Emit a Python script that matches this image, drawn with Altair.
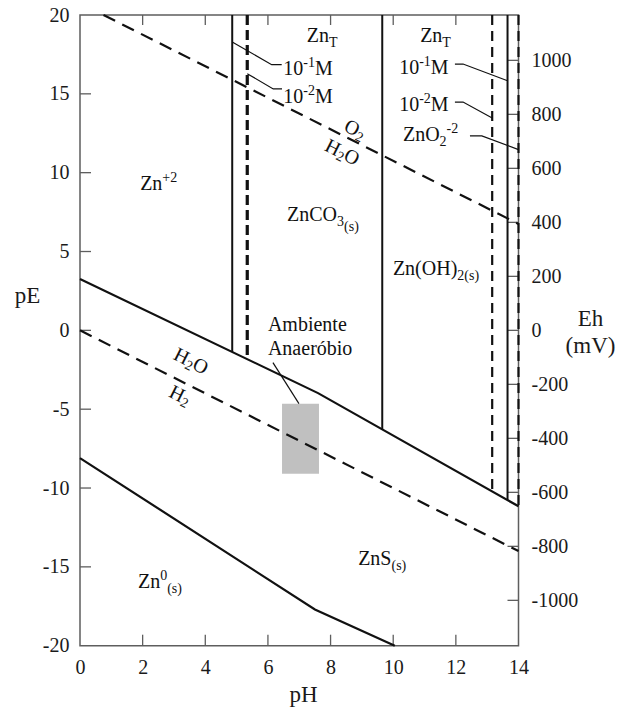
import math

import altair as alt
import pandas as pd

FONT = "Liberation Serif"
INK = "#111111"
FRAME = "#5e5e5e"
LABEL_INK = "#1a1a1a"

# ---------------------------------------------------------------- axes
ph_ticks = [0, 2, 4, 6, 8, 10, 12, 14]
pe_ticks = [-20, -15, -10, -5, 0, 5, 10, 15, 20]
eh_ticks = [-1000, -800, -600, -400, -200, 0, 200, 400, 600, 800, 1000]
inner_ph_ticks = [2, 4, 6, 8, 10, 12]
inner_pe_ticks = [-15, -10, -5, 0, 5, 10, 15]
mv_per_pe = 58.4

# ---------------------------------------------------------------- boundaries
# water stability limits
o2_h2o_ph = [0.75, 14.0]
o2_h2o_pe = [20.0, 6.75]
h2o_h2_ph = [0.0, 14.0]
h2o_h2_pe = [0.0, -14.0]

# Zn(II) species / ZnS(s)
zns_ph = [0.0, 7.6, 14.0]
zns_pe = [3.26, -3.98, -11.16]

# ZnS(s) / Zn0(s)
zn0_ph = [0.0, 7.5, 10.05]
zn0_pe = [-8.1, -17.7, -20.0]

# vertical solubility boundaries, drawn from pE 20 down to the ZnS line
vert_ph = [4.86, 5.34, 9.65, 13.16, 13.65, 14.0]
vert_pe_low = [-1.37, -1.82, -6.29, -10.24, -10.76, -11.16]
vert_style = ["solid", "thick", "solid", "dash", "solid", "dash"]

# anaerobic environment
box_ph = [6.45, 7.63]
box_pe = [-4.66, -9.1]

# leader lines (pH list, pE list)
leader_lines = [
    ([4.86, 6.12, 6.44], [18.29, 16.85, 16.85]),
    ([5.34, 6.17, 6.45], [16.28, 15.31, 15.31]),
    ([11.97, 12.23, 13.65], [16.89, 16.89, 15.83]),
    ([11.97, 12.23, 13.16], [14.48, 14.48, 13.47]),
    ([12.45, 12.83, 14.0], [12.33, 12.33, 11.46]),
    ([6.16, 6.99], [-2.05, -4.65]),
]

# labels: (pH, pE, pieces); pieces are (text, role); anchor = left end of baseline
plain_labels = [
    (1.92, 8.92, [("Zn", "n"), ("+2", "sup")]),
    (7.24, 18.26, [("Zn", "n"), ("T", "sub")]),
    (6.49, 16.21, [("10", "n"), ("-1", "sup"), ("M", "n")]),
    (6.49, 14.44, [("10", "n"), ("-2", "sup"), ("M", "n")]),
    (10.86, 18.26, [("Zn", "n"), ("T", "sub")]),
    (10.19, 16.28, [("10", "n"), ("-1", "sup"), ("M", "n")]),
    (10.19, 13.89, [("10", "n"), ("-2", "sup"), ("M", "n")]),
    (10.31, 11.98, [("ZnO", "n"), ("2", "sub"), ("-2", "sup")]),
    (6.61, 6.91, [("ZnCO", "n"), ("3", "sub"), ("(s)", "sub2")]),
    (9.99, 3.53, [("Zn(OH)", "n"), ("2(s)", "sub")]),
    (6.0, -0.06, [("Ambiente", "n")]),
    (6.0, -1.54, [("Anaeróbio", "n")]),
    (8.88, -14.86, [("ZnS", "n"), ("(s)", "sub")]),
    (1.85, -16.33, [("Zn", "n"), ("0", "sup"), ("(s)", "sub")]),
]
# labels written along the sloping water lines: (pH, pE, pieces); anchor = centre
sloped_labels = [
    (8.78, 12.72, [("O", "n"), ("2", "sub")]),
    (8.37, 11.27, [("H", "n"), ("2", "sub"), ("O", "n")]),
    (3.54, -1.98, [("H", "n"), ("2", "sub"), ("O", "n")]),
    (3.19, -4.14, [("H", "n"), ("2", "sub")]),
]

# ---------------------------------------------------------------- layout
W, H = 438.5, 630.7
SLOPE_ANGLE = math.degrees(math.atan((H / 40) / (W / 14)))
MAIN, SMALL = 20, 14
SHIFT = {"n": 0, "sub": 5, "sup": -8, "sub2": 10}
# Times-style advance widths (per 1000 em)
ADV = {
    "Z": 611, "n": 500, "C": 667, "O": 722, "H": 722, "S": 556, "M": 889,
    "T": 611, "(": 333, ")": 333, "s": 389, "+": 564, "-": 333, "A": 722,
    "m": 778, "b": 500, "i": 278, "e": 444, "t": 278, "a": 444, "r": 333,
    "ó": 500, "o": 500, " ": 250,
}


def text_width(s, size):
    return sum(ADV.get(c, 500) for c in s) * size / 1000


xs = alt.Scale(domain=[0, 14], nice=False, zero=False)
ys = alt.Scale(domain=[-20, 20], nice=False, zero=False)

common_axis = dict(
    ticks=False, tickSize=0, domain=False, grid=False, labelFont=FONT,
    labelFontSize=20, labelColor=LABEL_INK, labelFlush=False,
    labelOverlap=False, titleFont=FONT, titleFontSize=23,
    titleFontWeight="normal", titleColor=LABEL_INK,
)
x_axis = alt.Axis(
    orient="bottom", values=ph_ticks, labelExpr="'' + datum.value",
    labelPadding=12, title="pH", titleX=223, titleY=56, titleAlign="center",
    titleBaseline="alphabetic", **common_axis,
)
y_axis = alt.Axis(
    orient="left", values=pe_ticks, labelExpr="'' + datum.value",
    labelPadding=11, title="pE", titleAngle=0, titleX=-53, titleY=287,
    titleAlign="center", titleBaseline="alphabetic", **common_axis,
)
# Eh axis: tick positions expressed on the pE scale, labelled in mV
eh_axis = alt.Axis(
    orient="right", values=[v / mv_per_pe for v in eh_ticks],
    labelExpr=f"'' + round(datum.value * {mv_per_pe})", labelPadding=12.5,
    labelAlign="left", title=["Eh", "(mV)"], titleAngle=0, titleX=71.5,
    titleY=310, titleAlign="center", titleBaseline="alphabetic",
    titleLineHeight=27, **common_axis,
)


# x is shared by every layer: only one layer sets the axis, the rest leave it unset
def X(field="pH", axis=None):
    if axis is None:
        return alt.X(f"{field}:Q", scale=xs)
    return alt.X(f"{field}:Q", scale=xs, axis=axis)


# y axes are resolved per layer: layers without their own axis switch it off
def Y(field="pE", axis=None):
    return alt.Y(f"{field}:Q", scale=ys, axis=axis)


def XD(v):
    return alt.X(datum=v, type="quantitative", scale=xs)


def YD(v):
    return alt.Y(datum=v, type="quantitative", scale=ys, axis=None)


def polyline(phs, pes, width, dash=None):
    df = pd.DataFrame({"pH": phs, "pE": pes, "seq": list(range(len(phs)))})
    kw = dict(color=INK, strokeWidth=width, strokeCap="butt")
    if dash:
        kw["strokeDash"] = dash
    return alt.Chart(df).mark_line(**kw).encode(x=X(), y=Y(), order="seq:O")


def verticals(style, width, dash=None):
    df = pd.DataFrame({"pH": vert_ph, "lo": vert_pe_low, "style": vert_style})
    df = df[df["style"] == style].assign(hi=20.0)
    kw = dict(color=INK, strokeWidth=width, strokeCap="butt")
    if dash:
        kw["strokeDash"] = dash
    return alt.Chart(df).mark_rule(**kw).encode(x=X(), y=Y("hi"), y2="lo:Q")


def label(ph, pe, pieces, angle=0, centered=False):
    sizes = [MAIN if r == "n" else SMALL for _, r in pieces]
    total = sum(text_width(t, s) for (t, _), s in zip(pieces, sizes))
    dx = -total / 2 if centered else 0.0
    layers = []
    for (t, r), s in zip(pieces, sizes):
        df = pd.DataFrame({"pH": [ph], "pE": [pe], "t": [t]})
        layers.append(
            alt.Chart(df)
            .mark_text(
                align="left",
                baseline="middle" if centered else "alphabetic",
                dx=dx, dy=SHIFT[r], angle=angle, font=FONT, fontSize=s,
                color=INK,
            )
            .encode(x=X(), y=Y(), text="t:N")
        )
        dx += text_width(t, s)
    return layers


# ---------------------------------------------------------------- layers
# inward tick marks; the left, bottom and right sets also carry the axes
bottom_ticks = (
    alt.Chart(pd.DataFrame({"pH": inner_ph_ticks}))
    .mark_rule(color=FRAME, strokeWidth=1.3, y2Offset=-11)
    .encode(x=X("pH", x_axis), y=YD(-20), y2=alt.Y2(datum=-20))
)
left_ticks = (
    alt.Chart(pd.DataFrame({"pE": inner_pe_ticks}))
    .mark_rule(color=FRAME, strokeWidth=1.3, x2Offset=11)
    .encode(y=Y("pE", y_axis), x=XD(0), x2=alt.X2(datum=0))
)
top_ticks = (
    alt.Chart(pd.DataFrame({"pH": inner_ph_ticks}))
    .mark_rule(color=FRAME, strokeWidth=1.3, y2Offset=10)
    .encode(x=X(), y=YD(20), y2=alt.Y2(datum=20))
)
right_ticks = (
    alt.Chart(pd.DataFrame({"Eh": eh_ticks}))
    .transform_calculate(pE=f"datum.Eh / {mv_per_pe}")
    .mark_rule(color=FRAME, strokeWidth=1.3, x2Offset=-11)
    .encode(y=Y("pE", eh_axis), x=XD(14), x2=alt.X2(datum=14))
)

box = (
    alt.Chart(pd.DataFrame({"x1": [box_ph[0]], "x2": [box_ph[1]],
                            "y1": [box_pe[0]], "y2": [box_pe[1]]}))
    .mark_rect(color="#c0c0c0")
    .encode(x=X("x1"), x2="x2:Q", y=Y("y1"), y2="y2:Q")
)

lines = [
    polyline(o2_h2o_ph, o2_h2o_pe, 2.2, [13, 8]),
    polyline(h2o_h2_ph, h2o_h2_pe, 2.2, [13, 8]),
    polyline(zns_ph, zns_pe, 2.2),
    polyline(zn0_ph, zn0_pe, 2.2),
    verticals("solid", 2.0),
    verticals("thick", 3.2, [10, 5]),
    verticals("dash", 2.2, [10, 6]),
]
leaders = [polyline(p, e, 1.2) for p, e in leader_lines]

texts = []
for ph, pe, pieces in plain_labels:
    texts += label(ph, pe, pieces)
for ph, pe, pieces in sloped_labels:
    texts += label(ph, pe, pieces, angle=SLOPE_ANGLE, centered=True)

chart = (
    alt.layer(bottom_ticks, left_ticks, right_ticks, top_ticks, box, *lines,
              *leaders, *texts)
    .resolve_axis(y="independent")
    .properties(
        width=W,
        height=H,
        autosize=alt.AutoSizeParams(type="none"),
        padding={"left": 80, "top": 15, "right": 634 - 80 - W, "bottom": 708 - 15 - H},
        background="white",
    )
    .configure_view(stroke=FRAME, strokeWidth=1.5)
)

chart.save("out.html", embed_options={"renderer": "svg", "actions": False})
